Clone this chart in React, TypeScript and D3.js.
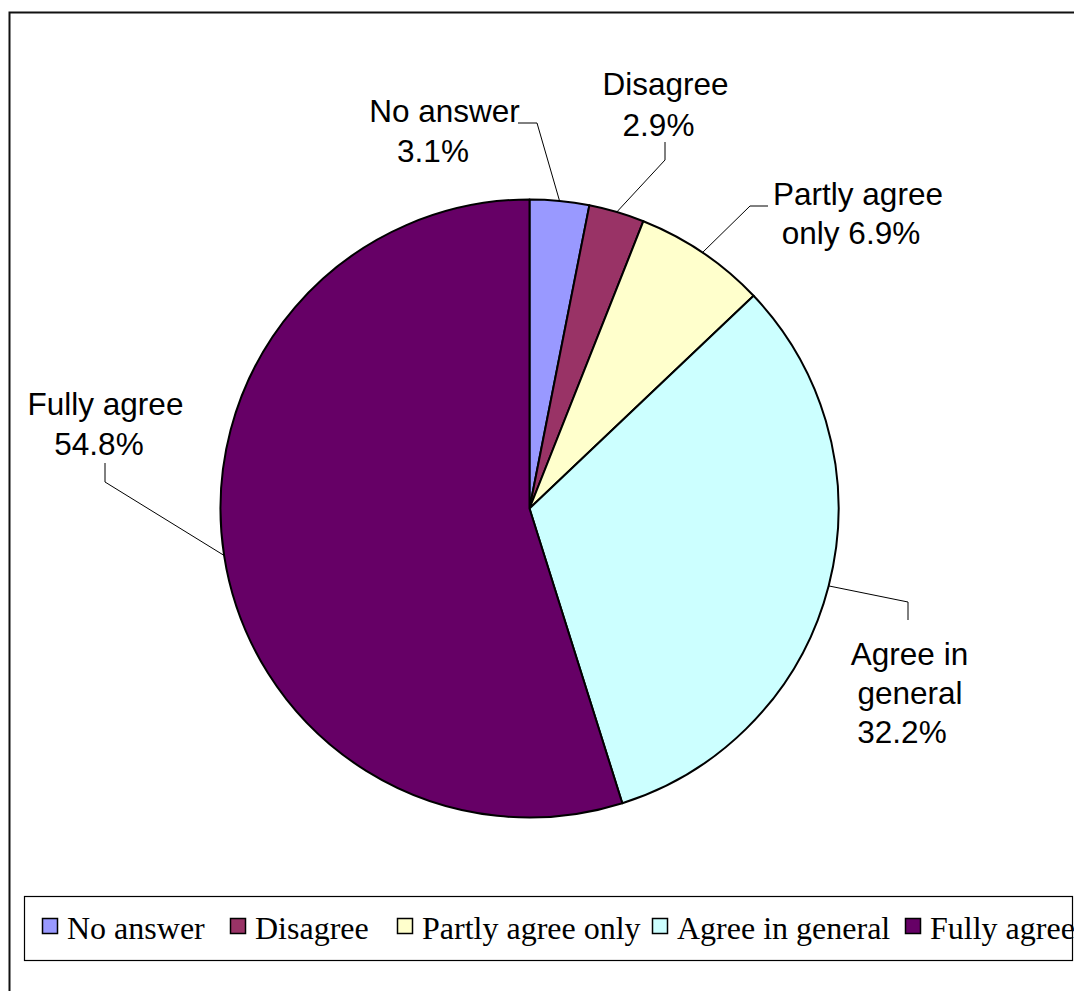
import React from "react";
import * as d3 from "d3";

const categories = ["No answer", "Disagree", "Partly agree only", "Agree in general", "Fully agree"];
const values = [3.1, 2.9, 6.9, 32.2, 54.8];
const colors = ["#9999FF", "#993366", "#FFFFCC", "#CCFFFF", "#660066"];

// label layout: text lines with centers/baselines, leader elbow and end points
const labelLines = [
  [{ t: "No answer", x: 444.5, y: 122 }, { t: "3.1%", x: 433, y: 162 }],
  [{ t: "Disagree", x: 665.5, y: 95 }, { t: "2.9%", x: 658.5, y: 136 }],
  [{ t: "Partly agree", x: 858, y: 205 }, { t: "only 6.9%", x: 851, y: 244 }],
  [{ t: "Agree in", x: 909.5, y: 665 }, { t: "general", x: 910, y: 704 }, { t: "32.2%", x: 902, y: 743 }],
  [{ t: "Fully agree", x: 105.5, y: 415 }, { t: "54.8%", x: 99, y: 455 }],
];
const leaderPts = [
  [[537, 123], [518, 123]],
  [[665, 160], [665, 142]],
  [[750, 206], [768, 206]],
  [[908, 602], [908, 620]],
  [[105, 482], [105, 463]],
];

const legendX = [42, 230, 397, 652, 905];

export default function App() {
  const cx = 529.5, cy = 508.5, r = 309;
  const pie = d3.pie<number>().sort(null).value((d) => d);
  const arcs = pie(values);
  const arcGen = d3.arc<d3.PieArcDatum<number>>().innerRadius(0).outerRadius(r);
  const line = d3.line();

  return (
    <div style={{ position: "absolute", left: 0, top: 0 }}>
      <svg width={1074} height={991} style={{ display: "block" }}>
        <rect x={0} y={0} width={1074} height={991} fill="#fff" />
        <rect x={9.5} y={12.5} width={1100} height={1000} fill="none" stroke="#111" strokeWidth={2} />
        <g transform={`translate(${cx},${cy})`}>
          {arcs.map((a, i) => (
            <path key={i} d={arcGen(a) || ""} fill={colors[i]} stroke="#000" strokeWidth={2} strokeLinejoin="round" />
          ))}
        </g>
        {arcs.map((a, i) => {
          const m = (a.startAngle + a.endAngle) / 2;
          const p0: [number, number] = [cx + r * Math.sin(m), cy - r * Math.cos(m)];
          const pts = [p0, ...(leaderPts[i] as [number, number][])];
          return <path key={"l" + i} d={line(pts) || ""} fill="none" stroke="#000" strokeWidth={1} />;
        })}
        {labelLines.map((lines, i) =>
          lines.map((l, j) => (
            <text key={`t${i}-${j}`} x={l.x} y={l.y} textAnchor="middle" fontFamily="'Liberation Sans', Arial, sans-serif" fontSize={31.5} fill="#000">
              {l.t}
            </text>
          ))
        )}
        <rect x={24.5} y={896.5} width={1048} height={64} fill="#fff" stroke="#000" strokeWidth={1.2} />
        {categories.map((c, i) => (
          <g key={"lg" + i}>
            <rect x={legendX[i] + 0.5} y={918.5} width={15} height={15} fill={colors[i]} stroke="#000" strokeWidth={1.5} />
            <text x={legendX[i] + 25} y={939} fontFamily="'Liberation Serif', 'Times New Roman', serif" fontSize={32} fill="#000">
              {c}
            </text>
          </g>
        ))}
      </svg>
    </div>
  );
}
